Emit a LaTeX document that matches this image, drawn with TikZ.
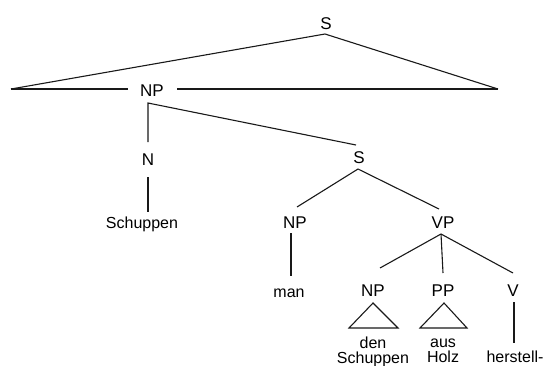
\documentclass[tikz,border=0pt]{standalone}
\usepackage{fontspec}
\setmainfont{Liberation Sans}
\begin{document}
\begin{tikzpicture}[x=1pt,y=-1pt,
  branch/.style={line width=1.1pt, draw=black!90},
  cat/.style={inner sep=0pt, anchor=base, font=\fontsize{17}{20}\selectfont},
  word/.style={inner sep=0pt, anchor=base, font=\fontsize{16}{19}\selectfont}]
\useasboundingbox (0,0) rectangle (553,365);
% category labels
\node[cat] (S1)  at (326,29)  {S};
\node[cat] (NP1) at (152,96)  {NP};
\node[cat] (N)   at (148,165) {N};
\node[cat] (S2)  at (359,163) {S};
\node[cat] (NP2) at (295,228) {NP};
\node[cat] (VP)  at (443,228) {VP};
\node[cat] (NP3) at (373,296) {NP};
\node[cat] (PP)  at (443,296) {PP};
\node[cat] (V)   at (513,296) {V};
% words
\node[word] (w1) at (142,228) {Schuppen};
\node[word] (w2) at (289,297) {man};
\node[word] (w3) at (373,348) {den};
\node[word] (w4) at (373,363) {Schuppen};
\node[word] (w5) at (443,347) {aus};
\node[word] (w6) at (443,362) {Holz};
\node[word] (w7) at (515,362) {herstell-};
% connector end points
\coordinate (S1b) at (325,34);
\coordinate (Lc) at (11,89);
\coordinate (Rc) at (498,89);
\coordinate (NP1l) at (128,89);
\coordinate (NP1r) at (177,89);
\coordinate (NP1b) at (148,103);
\coordinate (Nt) at (148,142);
\coordinate (Nb) at (148,177);
\coordinate (w1t) at (148,212);
\coordinate (S2t) at (356,145);
\coordinate (S2b) at (358,169);
\coordinate (NP2t) at (297,207);
\coordinate (VPt) at (439,209);
\coordinate (NP2b) at (291,233);
\coordinate (w2t) at (291,276);
\coordinate (VPb) at (441,234);
\coordinate (NP3t) at (380,268);
\coordinate (PPt) at (443,273);
\coordinate (Vt) at (513,273);
\coordinate (T1a) at (373,303);
\coordinate (T1l) at (349,328);
\coordinate (T1r) at (398,328);
\coordinate (T2a) at (444,303);
\coordinate (T2l) at (420,328);
\coordinate (T2r) at (467,328);
\coordinate (Vb) at (514,302);
\coordinate (w7t) at (514,343);
% branches
\draw[branch] (Lc) -- (S1b) -- (Rc);
\draw[branch] (Lc) -- (NP1l);
\draw[branch] (NP1r) -- (Rc);
\draw[branch] (Nt) -- (NP1b) -- (S2t);
\draw[branch] (Nb) -- (w1t);
\draw[branch] (NP2t) -- (S2b) -- (VPt);
\draw[branch] (NP2b) -- (w2t);
\draw[branch] (NP3t) -- (VPb) -- (Vt);
\draw[branch] (VPb) -- (PPt);
\draw[branch] (T1a) -- (T1l) -- (T1r) -- cycle;
\draw[branch] (T2a) -- (T2l) -- (T2r) -- cycle;
\draw[branch] (Vb) -- (w7t);
\end{tikzpicture}
\end{document}
